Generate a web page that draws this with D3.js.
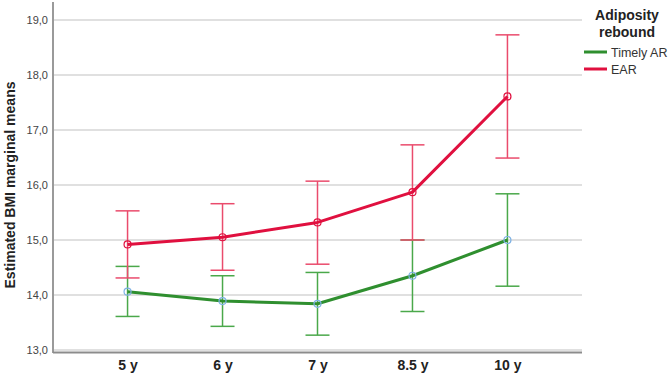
<!DOCTYPE html>
<html>
<head>
<meta charset="utf-8">
<script src="https://cdn.jsdelivr.net/npm/d3@7"></script>
<style>
	body { margin: 0; background: #fff; }
	svg { display: block; font-family: "Liberation Sans", Arial, sans-serif; }
</style>
</head>
<body>
<div id="chart"></div>
<script>
// categories and tick values
var ages = ['5 y', '6 y', '7 y', '8.5 y', '10 y'];
var yTicks = [13, 14, 15, 16, 17, 18, 19];

// series: means and 95% CI bounds
var timelyMean  = [14.06, 13.89, 13.84, 14.35, 15.00];
var timelyLower = [13.61, 13.43, 13.27, 13.70, 14.16];
var timelyUpper = [14.52, 14.35, 14.41, 15.00, 15.84];

var earMean  = [14.92, 15.05, 15.32, 15.87, 17.61];
var earLower = [14.31, 14.45, 14.56, 15.00, 16.49];
var earUpper = [15.53, 15.66, 16.07, 16.73, 18.73];

var svgWidth = 668,
	svgHeight = 379;

var plot = { left: 53, right: 582, top: 20, bottom: 350 };

var svg = d3.select('#chart')
	.append('svg')
	.attr('width', svgWidth)
	.attr('height', svgHeight);

var xScale = d3.scalePoint()
	.domain(ages)
	.range([plot.left, plot.right])
	.padding(0.785);

var yScale = d3.scaleLinear()
	.domain([13, 19])
	.range([plot.bottom, plot.top]);

// grid lines
svg.append('g').selectAll('line')
	.data(yTicks)
	.enter()
	.append('line')
	.attr('x1', plot.left)
	.attr('x2', plot.right)
	.attr('y1', d => yScale(d))
	.attr('y2', d => yScale(d))
	.attr('stroke', '#d6d6d6')
	.attr('stroke-width', 1.5);

// y axis
var yAxis = d3.axisLeft(yScale)
	.tickValues(yTicks)
	.tickSize(0)
	.tickPadding(5)
	.tickFormat(d => d3.format('.1f')(d).replace('.', ','));

var yAxisG = svg.append('g')
	.attr('transform', `translate(${plot.left},0)`)
	.call(yAxis);
yAxisG.select('.domain').remove();
yAxisG.selectAll('text')
	.attr('font-size', 11)
	.attr('fill', '#444')
	.attr('font-family', '"Liberation Sans", Arial, sans-serif');

// axis frame lines
svg.append('line')
	.attr('x1', plot.left).attr('x2', plot.left)
	.attr('y1', 2).attr('y2', plot.bottom + 3)
	.attr('stroke', '#9a9a9a')
	.attr('stroke-width', 2);
svg.append('line')
	.attr('x1', plot.left).attr('x2', plot.right)
	.attr('y1', plot.bottom + 2.5).attr('y2', plot.bottom + 2.5)
	.attr('stroke', '#8c8c8c')
	.attr('stroke-width', 2);

// x axis labels
var xAxis = d3.axisBottom(xScale).tickSize(0).tickPadding(0);
var xAxisG = svg.append('g')
	.attr('transform', `translate(0,${plot.bottom + 10})`)
	.call(xAxis);
xAxisG.select('.domain').remove();
xAxisG.selectAll('text')
	.attr('font-size', 14)
	.attr('font-weight', 'bold')
	.attr('fill', '#222')
	.attr('font-family', '"Liberation Sans", Arial, sans-serif');

// y title
svg.append('text')
	.attr('transform', `translate(15,${(plot.top + plot.bottom) / 2})rotate(-90)`)
	.attr('text-anchor', 'middle')
	.attr('font-size', 14)
	.attr('font-weight', 'bold')
	.attr('fill', '#222')
	.text('Estimated BMI marginal means');

var series = [
	{ name: 'Timely AR', mean: timelyMean, lower: timelyLower, upper: timelyUpper,
		line: '#2f8f2f', bar: '#4aa84a', marker: '#7fb2e5' },
	{ name: 'EAR', mean: earMean, lower: earLower, upper: earUpper,
		line: '#e0103f', bar: '#ea4b6c', marker: '#e0103f' }
];

var capHalf = 12;

series.forEach(s => {
	var g = svg.append('g');
	var rows = ages.map((a, i) => ({ age: a, mean: s.mean[i], lower: s.lower[i], upper: s.upper[i] }));

	// error bars
	g.selectAll('.stem')
		.data(rows)
		.enter()
		.append('line')
		.attr('x1', d => xScale(d.age))
		.attr('x2', d => xScale(d.age))
		.attr('y1', d => yScale(d.lower))
		.attr('y2', d => yScale(d.upper))
		.attr('stroke', s.bar)
		.attr('stroke-width', 1.5);
	['lower', 'upper'].forEach(k => {
		g.selectAll('.cap-' + k)
			.data(rows)
			.enter()
			.append('line')
			.attr('x1', d => xScale(d.age) - capHalf)
			.attr('x2', d => xScale(d.age) + capHalf)
			.attr('y1', d => yScale(d[k]))
			.attr('y2', d => yScale(d[k]))
			.attr('stroke', s.bar)
			.attr('stroke-width', 1.5);
	});
});

series.forEach(s => {
	var rows = ages.map((a, i) => ({ age: a, mean: s.mean[i] }));
	var line = d3.line()
		.x(d => xScale(d.age))
		.y(d => yScale(d.mean));

	svg.append('path')
		.datum(rows)
		.attr('d', line)
		.attr('fill', 'none')
		.attr('stroke', s.line)
		.attr('stroke-width', 3)
		.attr('stroke-linejoin', 'round');

	svg.append('g').selectAll('circle')
		.data(rows)
		.enter()
		.append('circle')
		.attr('cx', d => xScale(d.age))
		.attr('cy', d => yScale(d.mean))
		.attr('r', 3.5)
		.attr('fill', 'none')
		.attr('stroke', s.marker)
		.attr('stroke-width', 1.2);
});

// legend
var legend = svg.append('g');
legend.append('text')
	.attr('x', 627).attr('y', 20)
	.attr('text-anchor', 'middle')
	.attr('font-size', 14)
	.attr('font-weight', 'bold')
	.attr('fill', '#222')
	.text('Adiposity');
legend.append('text')
	.attr('x', 627).attr('y', 37)
	.attr('text-anchor', 'middle')
	.attr('font-size', 14)
	.attr('font-weight', 'bold')
	.attr('fill', '#222')
	.text('rebound');

var items = legend.selectAll('.item')
	.data(series)
	.enter()
	.append('g')
	.attr('transform', (d, i) => `translate(584,${52 + i * 17})`);
items.append('line')
	.attr('x1', 0).attr('x2', 23)
	.attr('stroke', d => d.line)
	.attr('stroke-width', 3);
items.append('text')
	.attr('x', 27).attr('y', 4.5)
	.attr('font-size', 12.5)
	.attr('fill', '#333')
	.text(d => d.name);
</script>
</body>
</html>
